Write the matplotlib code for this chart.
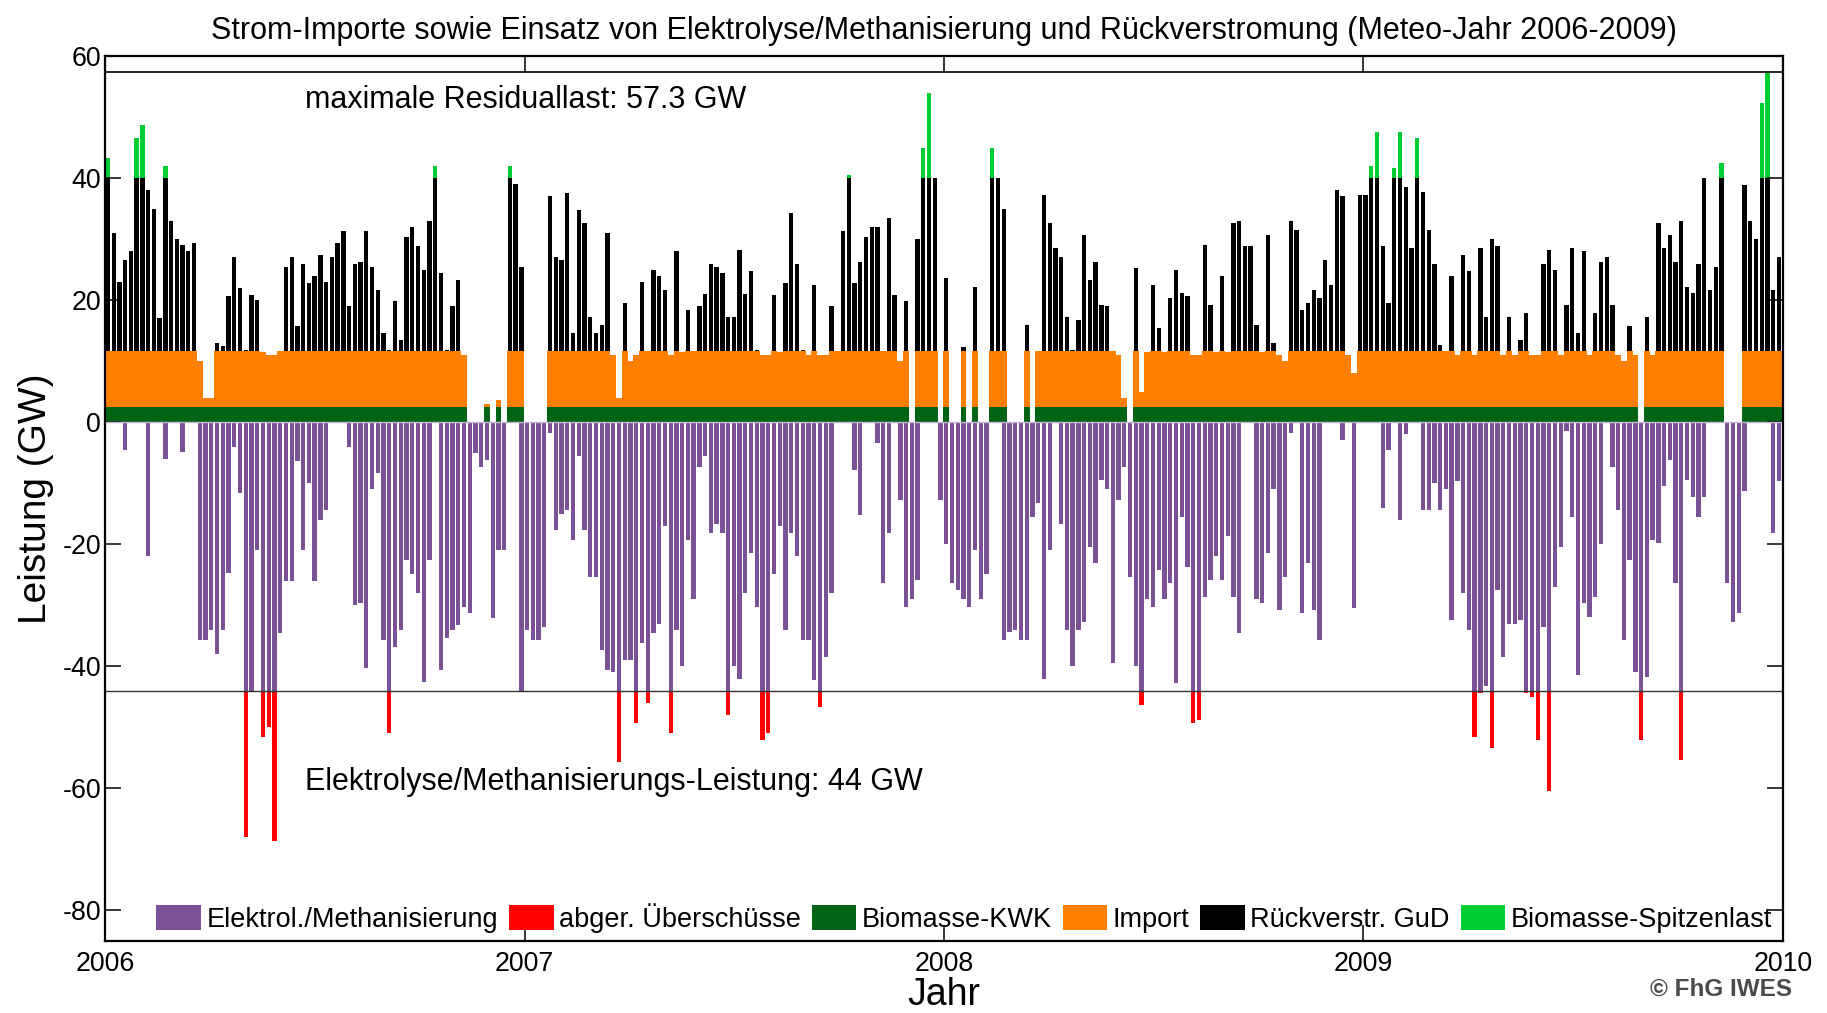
"""
Strom-Importe / Elektrolyse / Rueckverstromung, Meteo-Jahr 2006-2009.
Residual load read off the reference in 5-day windows (max positive,
min negative per window), then split into the dispatch stack.
"""

import numpy as np
import matplotlib
matplotlib.use("Agg")
import matplotlib.pyplot as plt

plt.rcParams["font.family"] = ["Liberation Sans", "DejaVu Sans"]
plt.rcParams["axes.unicode_minus"] = False

# ---- data: residual load per 5-day window (GW) ----
WINDOW_DAYS = 5

POS_2006 = [43.3, 31, 23, 26.6, 28, 46.5, 48.7, 38, 35, 17,
            42, 33, 30, 29, 28, 29.3, 10, 4, 4, 13,
            12.5, 20.6, 27, 22, 11.8, 20.8, 20, 11.5, 11, 11,
            11.7, 25.5, 27, 15.7, 26, 22.8, 24, 27.4, 23, 27,
            29.3, 31.3, 19, 26, 26.3, 31.3, 25.5, 21.7, 14.6, 11.8,
            19.8, 13.5, 30.4, 32, 28.8, 25, 32.9, 41.9, 24.4, 11.8,
            19, 23.3, 11, 0, 0, 0, 3, 0, 3.6, 0,
            42, 39, 25.5]
NEG_2006 = [0, 0, 0, -4.5, 0, 0, 0, -22, 0, 0,
            -6, 0, 0, -4.8, 0, 0, -35.7, -35.7, -34, -38,
            -34, -24.7, -4, -11.6, -68, -44, -21, -51.5, -50, -68.7,
            -34.6, -26, -26, -6.4, -21, -10, -26, -16, -14.4, 0,
            0, 0, -4, -30, -29.7, -40.3, -11, -8.4, -35.7, -51,
            -36.8, -34, -22.6, -24.8, -28, -42.5, -22.6, 0, -40.6, -35.4,
            -34, -33.2, -30.2, -31.3, -5, -7.3, -6.2, -32, -21, -21,
            0, 0, -44]

POS_2007 = [0, 0, 0, 0, 37, 27, 26.6, 37.5, 14.6, 34.8,
            32.6, 17.3, 14.6, 16, 31, 11, 4, 19.5, 10, 11,
            23, 11.7, 24.9, 24, 21.7, 11, 28, 11.5, 18.4, 11.7,
            19, 21, 26, 25.5, 24.4, 17.3, 17.3, 28.2, 21, 24.7,
            11.8, 11, 11, 20.9, 11.5, 22.8, 34.3, 26, 11.8, 11,
            22.5, 11, 11, 19, 11.7, 31.3, 40.5, 22.8, 26.3, 30.4,
            32, 32, 11.7, 33.4, 20.9, 10, 19.8, 0, 30, 45,
            54, 40, 0]
NEG_2007 = [-34, -35.7, -35.7, -33.5, -1.8, -17.6, -15, -14.4, -19.3, -5.6,
            -17.6, -25.3, -25.3, -37.3, -40.6, -41, -55.6, -39, -39, -49.3,
            -36.2, -46, -34.6, -33, -17, -51, -34, -40, -19.3, -29,
            -7.3, -5.6, -18.2, -16.6, -18.2, -48, -40, -42, -28, -21.5,
            -30.2, -52, -51, -24.8, -17, -34, -18.2, -22, -35.7, -35.7,
            -42.2, -46.6, -38.4, -28, 0, 0, 0, -7.8, -15.2, 0,
            0, -3.4, -26.4, -18.2, 0, -12.7, -30.2, -29, -25.8, 0,
            0, 0, -12.7]

POS_2008 = [23.6, 0, 0, 12.3, 0, 22.2, 0, 0, 45, 40,
            35, 0, 0, 0, 16, 0, 11.7, 37.3, 32.6, 28.5,
            27, 17.3, 11.8, 16.8, 30.7, 23.3, 26.3, 19.2, 19, 11.7,
            11, 4, 0, 25.2, 5, 11.5, 22.5, 15.4, 11.5, 20.3,
            25, 21.1, 20.6, 11, 11, 29, 19.2, 11.5, 24, 11.5,
            32.6, 32.9, 28.8, 28.8, 16, 11.5, 30.7, 13, 11, 10,
            32.9, 31.5, 18.4, 19.5, 21.7, 20.3, 26.6, 22.5, 38, 37,
            11, 8, 37.3]
NEG_2008 = [-20, -26.4, -27.5, -29, -30.2, -21, -29, -24.8, 0, 0,
            -35.7, -34.3, -34, -35.7, -35.7, -15.5, -13.3, -42, -21, 0,
            -16.6, -34, -40, -34, -32.7, -20.4, -23.1, -9.5, -11, -39.5,
            -12.7, -7.3, -25.3, -40, -46.3, -29, -30.2, -24.2, -29, -26.4,
            -42.8, -15.5, -23.7, -49.3, -48.8, -28.6, -25.8, -22, -25.8, -18.7,
            -28.6, -34.6, 0, 0, -29, -29.7, -21.5, -11, -30.8, -25.3,
            -1.8, 0, -31.3, -23.1, -30.8, -35.7, 0, 0, 0, -2.9,
            0, -30.5, 0]

POS_2009 = [37.3, 42, 47.6, 28.8, 19.5, 41.6, 47.6, 38.6, 28.5, 46.5,
            37.8, 31.5, 26, 12.7, 11.7, 24, 11, 27.4, 24.7, 11,
            28.5, 17.3, 30, 28.8, 11, 17.3, 11, 13.5, 17.9, 11,
            11, 26, 28.2, 25, 11, 19.2, 28.5, 14.6, 28, 11,
            17.9, 26.3, 27, 19.2, 11, 10, 15.7, 11, 0, 17.3,
            11, 32.6, 28.5, 30.7, 26.3, 33, 22.2, 21.1, 26, 40,
            21.7, 25.5, 42.4, 0, 0, 0, 38.9, 33, 30, 52.3,
            57.3, 21.7, 27]
NEG_2009 = [0, 0, 0, -14, -4.5, 0, -16, -2, 0, 0,
            -14.4, -14.4, -10, -14.4, -11, -32.4, -9.7, -28, -34, -51.5,
            -44.4, -43.3, -53.4, -27.5, -38.4, -33, -33, -32.4, -44.4, -45,
            -52, -33.5, -60.5, -27, -20.4, -1.5, -15.5, -41.4, -29.7, -31.9,
            -28.6, -20, 0, -7.3, -14.4, -35.7, -22.6, -40.9, -52, -41.7,
            -19.3, -19.8, -10.5, -6.2, -26.4, -55.4, -9.5, -12.2, -15.5, -12.2,
            0, 0, 0, -26.4, -32.7, -31.3, -11.3, 0, 0, 0,
            0, -18.2, -9.7]

# capacities of the stack (GW)
KWK_TOP = 2.5        # Biomasse-KWK
IMPORT_TOP = 11.7    # + Import
GUD_TOP = 40.0       # + Rueckverstr. GuD
ELEK_MAX = 44.0      # Elektrolyse/Methanisierung
MAX_RESIDUAL = 57.3

C_ELEK = "#7b5297"
C_ABGER = "#ff0000"
C_KWK = "#006414"
C_IMPORT = "#ff7f00"
C_GUD = "#000000"
C_SPITZE = "#00cc33"

pos = np.array(POS_2006 + POS_2007 + POS_2008 + POS_2009, dtype=float)
neg = np.array(NEG_2006 + NEG_2007 + NEG_2008 + NEG_2009, dtype=float)
x = 2006 + (np.arange(len(pos)) * WINDOW_DAYS + WINDOW_DAYS / 2) / 365.25
w_band = WINDOW_DAYS / 365.25      # base bands: contiguous
w_spike = 0.75 * w_band            # peaks: a bit thinner

kwk = np.clip(pos, 0, KWK_TOP)
imp = np.clip(pos - KWK_TOP, 0, IMPORT_TOP - KWK_TOP)
gud = np.clip(pos - IMPORT_TOP, 0, GUD_TOP - IMPORT_TOP)
spitze = np.clip(pos - GUD_TOP, 0, None)
elek = np.maximum(neg, -ELEK_MAX)
abger = np.minimum(neg + ELEK_MAX, 0)

fig = plt.figure(figsize=(18.27, 10.13), dpi=100)
ax = fig.add_axes([0.0575, 0.0711, 0.9184, 0.8736])

h_elek = ax.bar(x, elek, width=w_spike, color=C_ELEK, linewidth=0)
h_abger = ax.bar(x, abger, bottom=elek, width=w_spike, color=C_ABGER, linewidth=0)
h_kwk = ax.bar(x, kwk, width=w_band, color=C_KWK, linewidth=0)
h_imp = ax.bar(x, imp, bottom=kwk, width=w_band, color=C_IMPORT, linewidth=0)
h_gud = ax.bar(x, gud, bottom=kwk + imp, width=w_spike, color=C_GUD, linewidth=0)
h_spi = ax.bar(x, spitze, bottom=kwk + imp + gud, width=w_spike,
               color=C_SPITZE, linewidth=0)

ax.axhline(0, color="#c9b3d9", lw=1)
ax.axhline(MAX_RESIDUAL, color="black", lw=1.2)
ax.axhline(-ELEK_MAX, color="#333333", lw=1.0)

ax.text(2006.477, 52.8, f"maximale Residuallast: {MAX_RESIDUAL} GW",
        fontsize=22, va="center", ha="left")
ax.text(2006.477, -59.0, f"Elektrolyse/Methanisierungs-Leistung: {ELEK_MAX:.0f} GW",
        fontsize=22, va="center", ha="left")

ax.set_xlim(2006, 2010)
ax.set_ylim(-85, 60)
ax.set_xticks([2006, 2007, 2008, 2009, 2010])
ax.set_yticks([-80, -60, -40, -20, 0, 20, 40, 60])
ax.tick_params(direction="in", length=11.5, width=1.1, labelsize=19.3,
               top=True, right=True)
ax.tick_params(axis="x", pad=7)
ax.tick_params(axis="y", pad=3)
for sp in ax.spines.values():
    sp.set_linewidth(1.6)

ax.set_xlabel("Jahr", fontsize=27, labelpad=0)
ax.set_ylabel("Leistung (GW)", fontsize=28, labelpad=6)
ax.set_title("Strom-Importe sowie Einsatz von Elektrolyse/Methanisierung und "
             "Rückverstromung (Meteo-Jahr 2006-2009)", fontsize=22, pad=12)

ax.legend([h_elek, h_abger, h_kwk, h_imp, h_gud, h_spi],
          ["Elektrol./Methanisierung", "abger. Überschüsse", "Biomasse-KWK",
           "Import", "Rückverstr. GuD", "Biomasse-Spitzenlast"],
          loc="center", bbox_to_anchor=(0.512, 0.026), ncol=6, frameon=False,
          fontsize=19.5, handlelength=1.65, handleheight=1.05,
          handletextpad=0.2, columnspacing=0.4, borderaxespad=0)

fig.text(0.981, 0.023, "© FhG IWES", fontsize=17.5, fontweight="bold",
         color="#4a4a4a", ha="right", va="center")

fig.savefig("out.png", dpi=100)
